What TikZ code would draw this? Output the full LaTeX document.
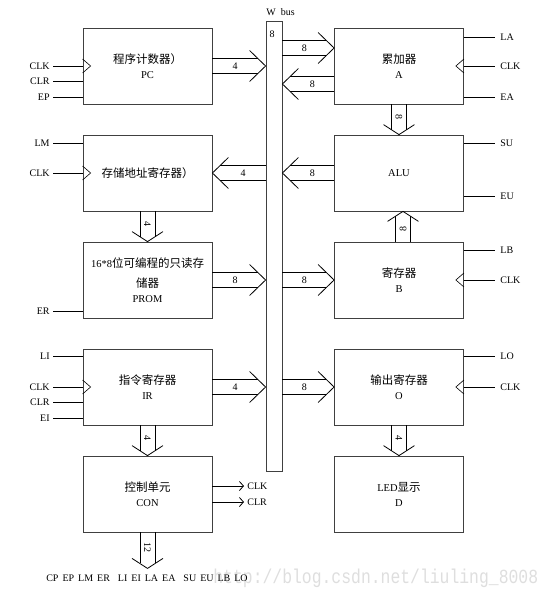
\documentclass[tikz,border=0pt]{standalone}
\usepackage{fontspec}
\setmainfont{Liberation Serif}
\newfontfamily\cjk{Noto Sans CJK SC}
\newfontfamily\wmfont{Liberation Mono}
\usetikzlibrary{calc, arrows.meta}
\colorlet{boxGray}{black!75}
\colorlet{markGray}{black!13}
\newcommand{\zh}[1]{{\cjk\fontsize{11.5}{15}\selectfont #1}}

% wide bus arrow: [chevron depth]{from}{tip}{width label}
\newcommand{\widearrow}[4][16pt]{%
  \coordinate (wa-c) at ($(#3)!{0.5*#1}!(#2)$);
  \coordinate (wa-h) at ($(#3)!#1!(#2)$);
  \draw ($(#2)!7.5pt!90:(#3)$) -- ($(wa-c)!7.5pt!-90:(#2)$);
  \draw ($(#2)!7.5pt!-90:(#3)$) -- ($(wa-c)!7.5pt!90:(#2)$);
  \draw ($(wa-h)!15.5pt!90:(#2)$) -- (#3) -- ($(wa-h)!15.5pt!-90:(#2)$);
  \path (#2) -- (wa-c) node[midway, sloped, lbl] {#4};
}

\begin{document}
\begin{tikzpicture}[x=1pt, y=-1pt, line width=0.8pt,
    box/.style={draw=boxGray, minimum width=129pt, minimum height=76pt, inner sep=0pt, align=center, font=\fontsize{10.5}{15}\selectfont},
    sig/.style={inner xsep=3pt, inner ysep=1pt, font=\fontsize{10}{12}\selectfont},
    sigr/.style={sig, inner xsep=5pt},
    lbl/.style={inner sep=1pt, font=\fontsize{10}{12}\selectfont},
    clk/.style={line width=0.6pt}]
		\useasboundingbox (0,0) rectangle (555,600);
		%%%%%%%%%%%%%
		\node[anchor=west, text=markGray, inner sep=0pt] (mark) at (213,578) {\wmfont\fontsize{20}{20}\selectfont\scalebox{0.82}[1]{http://blog.csdn.net/liuling\_8008}};
		%%%%%%%%%%%%%
		\node[draw=boxGray, minimum width=16pt, minimum height=450pt, inner sep=0pt] (bus) at (274,246) {};
		\node[anchor=west, sig] (busname) at (263,12) {W~~bus};
		\node[lbl] (buswidth) at (272,34) {8};
		%%%%%%%%%%%%%
		\node[box] (pc) at (147.5,66) {\zh{程序计数器）}\\PC};
		\node[box] (mar) at (147.5,173) {\zh{存储地址寄存器）}};
		\node[box] (prom) at (147.5,280) {16*8\zh{位可编程的只读存}\\[5pt]\zh{储器}\\PROM};
		\node[box] (ir) at (147.5,387) {\zh{指令寄存器}\\IR};
		\node[box] (con) at (147.5,494) {\zh{控制单元}\\CON};
		\node[box] (a) at (399,66) {\zh{累加器}\\A};
		\node[box] (alu) at (399,173) {ALU};
		\node[box] (b) at (399,280) {\zh{寄存器}\\B};
		\node[box] (o) at (399,387) {\zh{输出寄存器}\\O};
		\node[box] (d) at (399,494) {LED\zh{显示}\\D};
		%%%%%%%%%%%%%
		\widearrow{pc.east}{pc.east -| bus.west}{4}
		\widearrow{bus.west |- mar.east}{mar.east}{4}
		\widearrow{prom.east}{prom.east -| bus.west}{8}
		\widearrow{ir.east}{ir.east -| bus.west}{4}
		\widearrow{bus.east |- 0,48}{a.west |- 0,48}{8}
		\widearrow{a.west |- 0,84}{bus.east |- 0,84}{8}
		\widearrow{alu.west}{alu.west -| bus.east}{8}
		\widearrow{bus.east |- b.west}{b.west}{8}
		\widearrow{bus.east |- o.west}{o.west}{8}
		\widearrow[10pt]{mar.south}{prom.north}{4}
		\widearrow[10pt]{ir.south}{con.north}{4}
		\widearrow[10pt]{a.south}{alu.north}{8}
		\widearrow[10pt]{b.north -| 403,0}{alu.south -| 403,0}{8}
		\widearrow[10pt]{o.south}{d.north}{4}
		\coordinate (conbus) at ([yshift=-36pt]con.south);
		\widearrow[10pt]{con.south}{conbus}{12}
		\node[sig] (ctrlword) at (147,578) {\spaceskip=4pt\relax CP EP LM ER\ \ LI EI LA EA\ \ SU EU LB LO};
		%%%%%%%%%%%%%
		\foreach \bx/\sname/\y/\txt in {pc/pcclk/66/CLK, pc/pcclr/81/CLR, pc/pcep/97/EP,
		    mar/marlm/143/LM, mar/marclk/173/CLK, prom/promer/311/ER,
		    ir/irli/356/LI, ir/irclk/387/CLK, ir/irclr/402/CLR, ir/irei/418/EI}
		{
		  \node[sig, anchor=east] (\sname) at (53,\y) {\txt};
		  \draw (\sname.east) -- (\sname -| \bx.west);
		}
		\foreach \bx/\sname/\y/\txt in {a/ala/37/LA, a/aclk/66/CLK, a/aea/97/EA,
		    alu/alusu/143/SU, alu/alueu/196/EU, b/blb/250/LB, b/bclk/280/CLK,
		    o/olo/356/LO, o/oclk/387/CLK}
		{
		  \node[sigr, anchor=west] (\sname) at (495,\y) {\txt};
		  \draw (\sname -| \bx.east) -- (\sname.west);
		}
		%%%%%%%%%%%%%
		\draw[clk] ($(pc.west |- pcclk)+(0,-7)$) -- ++(8,7) -- ++(-8,7);
		\draw[clk] ($(mar.west |- marclk)+(0,-7)$) -- ++(8,7) -- ++(-8,7);
		\draw[clk] ($(ir.west |- irclk)+(0,-7)$) -- ++(8,7) -- ++(-8,7);
		\draw[clk] ($(a.east |- aclk)+(0,-7)$) -- ++(-8,7) -- ++(8,7);
		\draw[clk] ($(b.east |- bclk)+(0,-7)$) -- ++(-8,7) -- ++(8,7);
		\draw[clk] ($(o.east |- oclk)+(0,-7)$) -- ++(-8,7) -- ++(8,7);
		%%%%%%%%%%%%%
		\node[sig, anchor=west] (conclk) at (244,486) {CLK};
		\node[sig, anchor=west] (conclr) at (244,502) {CLR};
		\draw[-{Straight Barb[length=4pt, width=9pt]}] (con.east |- conclk) -- (conclk.west);
		\draw[-{Straight Barb[length=4pt, width=9pt]}] (con.east |- conclr) -- (conclr.west);
\end{tikzpicture}
\end{document}
